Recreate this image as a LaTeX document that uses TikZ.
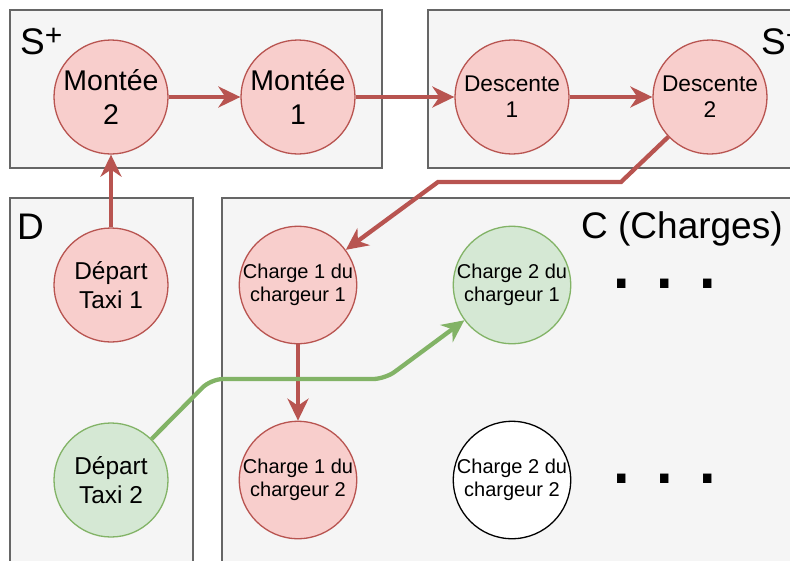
\documentclass[tikz,border=0pt]{standalone}
\usepackage{fontspec}
\setmainfont{Liberation Sans}
\usetikzlibrary{arrows.meta}
\definecolor{redfill}{HTML}{F8CECC}
\definecolor{redline}{HTML}{B85450}
\definecolor{greenfill}{HTML}{D5E8D4}
\definecolor{greenline}{HTML}{82B366}
\definecolor{boxfill}{HTML}{F5F5F5}
\definecolor{boxline}{HTML}{666666}
\begin{document}
\begin{tikzpicture}[x=1pt, y=-1pt,
    group/.style={draw=boxline, fill=boxfill, line width=1.5pt},
    grouplabel/.style={anchor=base west, inner sep=0pt, font=\fontsize{37}{37}\selectfont},
    state/.style={circle, line width=1.3pt, minimum size=114pt, inner sep=0pt, align=center},
    redstate/.style={state, draw=redline, fill=redfill},
    greenstate/.style={state, draw=greenline, fill=greenfill},
    montee/.style={font=\fontsize{28.5}{33.3}\selectfont},
    descente/.style={font=\fontsize{22.7}{26}\selectfont},
    depart/.style={font=\fontsize{24.4}{28.7}\selectfont},
    charge/.style={font=\fontsize{20}{22.7}\selectfont},
    dots/.style={anchor=base, inner sep=0pt, font=\fontsize{88}{88}\selectfont},
    flow/.style={line width=4.3pt, -{Stealth[length=22pt, width=21pt, inset=7pt]}}]
    \useasboundingbox (0,0) rectangle (790,560);
    \clip (0,0) rectangle (790,560);
    % groups
    \draw[group] (10,10) rectangle (382,168);
    \draw[group] (428,10) rectangle (800,168);
    \draw[group] (10,198) rectangle (193,570);
    \draw[group] (222,198) rectangle (800,570);
    \node[grouplabel] (splus) at (20,54) {S\raisebox{9pt}{\fontsize{30}{30}\selectfont +}};
    \node[grouplabel] (smoins) at (761,54) {S\raisebox{9pt}{\fontsize{30}{30}\selectfont +}};
    \node[grouplabel] (dlabel) at (17,239) {D};
    \node[grouplabel] (clabel) at (581,238) {C (Charges)};
    % states
    \node[redstate, montee] (mon2) at (111,97) {Montée\\2};
    \node[redstate, montee] (mon1) at (298,97) {Montée\\1};
    \node[redstate, descente] (desc1) at (512,97) {Descente\\1};
    \node[redstate, descente] (desc2) at (710,97) {Descente\\2};
    \node[redstate, depart] (dep1) at (111,285) {Départ\\Taxi 1};
    \node[greenstate, depart] (dep2) at (111,480) {Départ\\Taxi 2};
    \node[redstate, charge] (ch11) at (298,285) {Charge 1 du\\chargeur 1};
    \node[redstate, charge] (ch12) at (298,480) {Charge 1 du\\chargeur 2};
    \node[greenstate, charge] (ch21) at (512,285) {Charge 2 du\\chargeur 1};
    \node[state, draw=black, fill=white, charge] (ch22) at (512,480) {Charge 2 du\\chargeur 2};
    \node[dots] (dots1) at (665,288) {.\kern18.5pt.\kern18.5pt.};
    \node[dots] (dots2) at (665,483) {.\kern18.5pt.\kern18.5pt.};
    % taxi 1
    \coordinate (r1) at (621,182);
    \coordinate (r2) at (438,182);
    \draw[flow, redline] (dep1) -- (mon2);
    \draw[flow, redline] (mon2) -- (mon1);
    \draw[flow, redline] (mon1) -- (desc1);
    \draw[flow, redline] (desc1) -- (desc2);
    \draw[flow, redline] (desc2) -- (r1) -- (r2) -- (ch11);
    \draw[flow, redline] (ch11) -- (ch12);
    % taxi 2
    \coordinate (g1) at (211,379);
    \coordinate (g2) at (385,379);
    \draw[flow, greenline, rounded corners=12pt] (dep2) -- (g1) -- (g2) -- (ch21);
\end{tikzpicture}
\end{document}
